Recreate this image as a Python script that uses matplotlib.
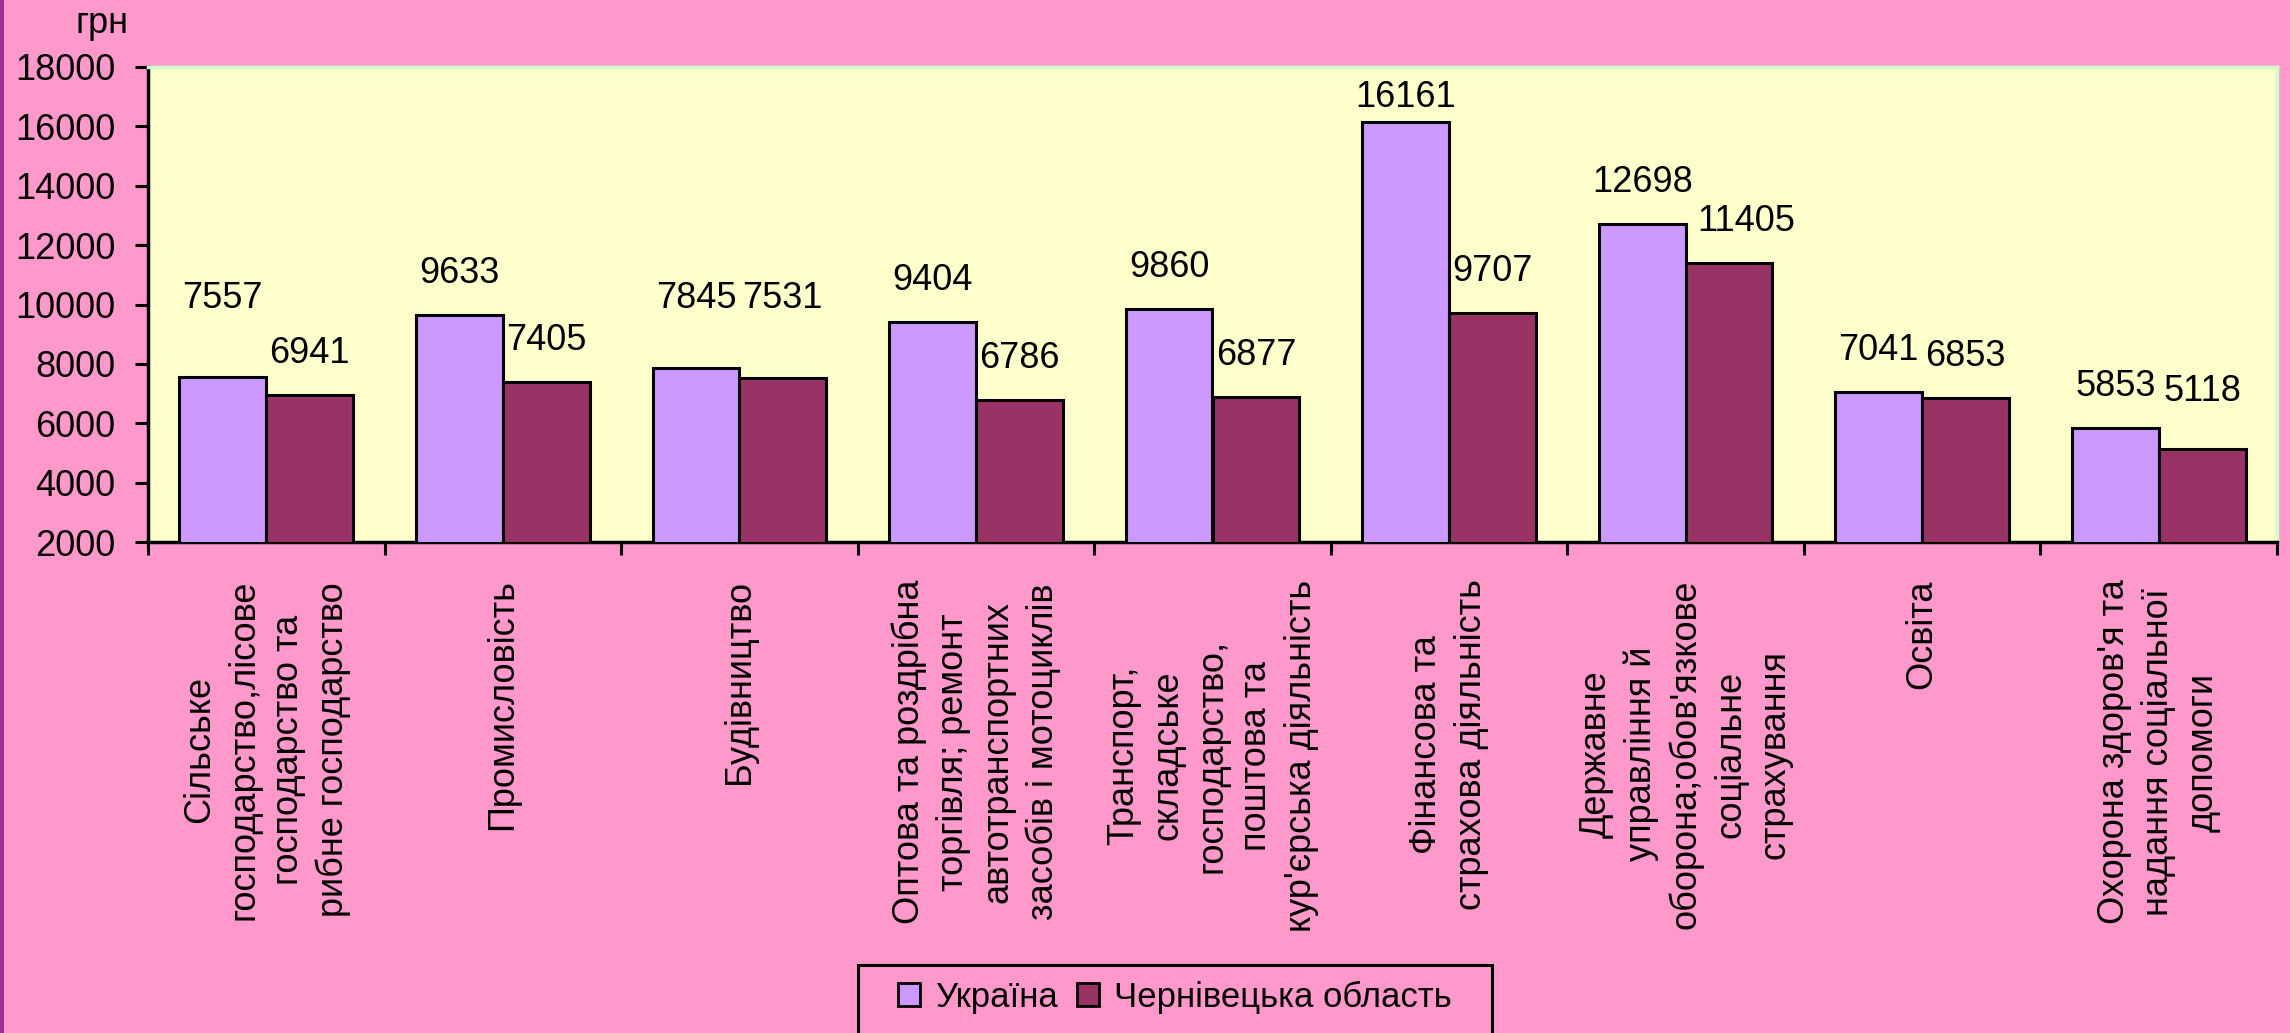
import numpy as np
import matplotlib
matplotlib.use('Agg')
import matplotlib.pyplot as plt
from matplotlib.patches import Rectangle

plt.rcParams['font.family'] = ['Liberation Sans', 'DejaVu Sans']

# Categories and values (грн)
categories = [
    "Сільське\nгосподарство,лісове\nгосподарство та\nрибне господарство",
    "Промисловість",
    "Будівництво",
    "Оптова та роздрібна\nторгівля; ремонт\nавтотранспортних\nзасобів і мотоциклів",
    "Транспорт,\nскладське\nгосподарство,\nпоштова та\nкур'єрська діяльність",
    "Фінансова та\nстрахова діяльність",
    "Державне\nуправління й\nоборона;обов'язкове\nсоціальне\nстрахування",
    "Освіта",
    "Охорона здоров'я та\nнадання соціальної\nдопомоги",
]
ukraine = [7557, 9633, 7845, 9404, 9860, 16161, 12698, 7041, 5853]
chernivtsi = [6941, 7405, 7531, 6786, 6877, 9707, 11405, 6853, 5118]
series_names = ["Україна", "Чернівецька область"]
yticks = [2000, 4000, 6000, 8000, 10000, 12000, 14000, 16000, 18000]

bg = '#ff99cc'
plot_bg = '#ffffcc'
col_ua = '#cc99ff'
col_ch = '#993366'

# a few data labels were moved by hand in the original (pixels: series, index -> dx, dy)
label_nudge = {(0, 0): (0, 37), (0, 2): (0, 28), (1, 2): (0, 38), (1, 8): (0, 16), (1, 6): (17, 0)}

fig = plt.figure(figsize=(22.9, 10.33), dpi=100, facecolor=bg)
ax = fig.add_axes([148 / 2290, 1 - 542 / 1033, (2277 - 148) / 2290, (542 - 67) / 1033])
ax.set_facecolor(plot_bg)

x = np.arange(len(categories))
w = 0.367
ax.bar(x - w / 2, ukraine, w, bottom=0, color=col_ua, edgecolor='black', linewidth=2.2, zorder=3)
ax.bar(x + w / 2, chernivtsi, w, bottom=0, color=col_ch, edgecolor='black', linewidth=2.2, zorder=3)

ax.set_xlim(-0.5, len(categories) - 0.5)
ax.set_ylim(yticks[0], yticks[-1])
ax.set_yticks(yticks)
ax.set_yticklabels([str(v) for v in yticks], fontsize=26)
ax.tick_params(axis='y', direction='out', length=9.5, width=2.2, pad=14)

ax.set_xticks(x)
ax.set_xticklabels(categories, rotation=90, fontsize=26, linespacing=1.35, va='top', ha='center')
ax.tick_params(axis='x', which='major', length=0, pad=27)
ax.set_xticks(np.arange(-0.5, len(categories), 1), minor=True)
ax.tick_params(axis='x', which='minor', direction='out', length=9, width=2.2)

for s in ['left', 'bottom']:
    ax.spines[s].set_linewidth(2.5)
    ax.spines[s].set_color('black')
for s in ['top', 'right']:
    ax.spines[s].set_linewidth(2.5)
    ax.spines[s].set_color('#ccffcc')

# data labels above bars, kept inside the plot area
ymin, ymax = yticks[0], yticks[-1]
ax_bb = ax.get_window_extent()
upp = (ymax - ymin) / ax_bb.height
xpp = (len(categories)) / ax_bb.width
for si, (xs, vals) in enumerate([(x - w / 2, ukraine), (x + w / 2, chernivtsi)]):
    for i, (xi, v) in enumerate(zip(xs, vals)):
        dx, dy = label_nudge.get((si, i), (0, 0))
        ly = min(v + (32 + dy) * upp, ymax - 40 * upp)
        ax.text(xi + dx * xpp, ly, str(v), ha='center', va='baseline', fontsize=26, zorder=4)

fig.text(102 / 2290, 1 - 33 / 1033, "грн", ha='center', va='baseline', fontsize=26)

# legend
handles = [Rectangle((0, 0), 1, 1, facecolor=col_ua, edgecolor='black', linewidth=2),
           Rectangle((0, 0), 1, 1, facecolor=col_ch, edgecolor='black', linewidth=2)]
fig.legend(handles, series_names, loc='center', bbox_to_anchor=(1175 / 2290, 1 - 997 / 1033),
           ncol=2, frameon=False, fontsize=25, handlelength=0.63, handleheight=0.63,
           handletextpad=0.43, columnspacing=0.57, borderpad=0)
fig.patches.append(Rectangle((858 / 2290, -0.02), (1492 - 858) / 2290, (1033 - 965) / 1033 + 0.02,
                             transform=fig.transFigure, fill=False, edgecolor='black', linewidth=2.2))

# purple strip on the left edge
fig.patches.append(Rectangle((0, 0), 4 / 2290, 1, transform=fig.transFigure,
                             facecolor='#a12d95', edgecolor='none'))

fig.savefig('out.png', dpi=100, facecolor=bg)
